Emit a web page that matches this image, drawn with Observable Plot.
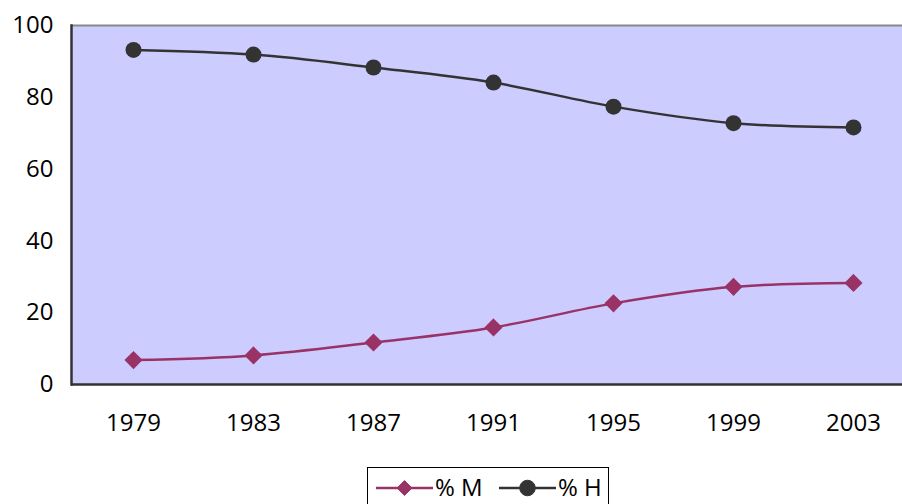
<!DOCTYPE html>
<html>
<head>
<meta charset="utf-8">
<script src="https://cdn.jsdelivr.net/npm/d3@7"></script>
<script src="https://cdn.jsdelivr.net/npm/@observablehq/plot@0.6"></script>
<style>
  html, body { margin: 0; padding: 0; background: #fff; overflow: hidden; }
  #chart { width: 902px; font-family: "Open Sans", sans-serif; }
  #chart svg text { font-size: 24px; }
  #legend { position: absolute; left: 367px; top: 467px; width: 242px; height: 44px;
            border: 1px solid #000; box-sizing: border-box; background: #fff;
            font-family: "Open Sans", sans-serif; font-size: 24px; color: #000; }
</style>
</head>
<body>
<div id="chart"></div>
<div id="legend"></div>
<script>
const years = ["1979", "1983", "1987", "1991", "1995", "1999", "2003"];
const pctM = [6.8, 8.1, 11.7, 15.9, 22.6, 27.2, 28.3];
const pctH = [93.2, 91.9, 88.3, 84.1, 77.4, 72.8, 71.6];
const yTicks = [0, 20, 40, 60, 80, 100];
const seriesNames = ["% M", "% H"];
const colorM = "#993366";
const colorH = "#333333";

const dataM = years.map((y, i) => ({year: y, value: pctM[i]}));
const dataH = years.map((y, i) => ({year: y, value: pctH[i]}));

const chart = Plot.plot({
  width: 902,
  height: 450,
  marginLeft: 71,
  marginRight: 0,
  marginTop: 25,
  marginBottom: 66,
  style: {fontFamily: "Open Sans, sans-serif", fontSize: "24px", color: "#000", background: "transparent"},
  x: {type: "point", domain: years, range: [133, 853], padding: 0, label: null},
  y: {domain: [0, 100], label: null},
  marks: [
    Plot.frame({fill: "#ccccff", stroke: null}),
    Plot.ruleY([100], {stroke: "#888888", strokeWidth: 2}),
    Plot.frame({anchor: "left", stroke: "#333333", strokeWidth: 2.5}),
    Plot.ruleY([0], {stroke: "#333333", strokeWidth: 2.5}),
    Plot.axisY({ticks: yTicks, tickSize: 0, tickPadding: 18, label: null, fontSize: 24}),
    Plot.axisX({tickSize: 0, tickPadding: 29, label: null, fontSize: 24}),
    Plot.line(dataM, {x: "year", y: "value", stroke: colorM, strokeWidth: 2.5, curve: "catmull-rom"}),
    Plot.dot(dataM, {x: "year", y: "value", symbol: "diamond2", fill: colorM, stroke: colorM, r: 7.2}),
    Plot.line(dataH, {x: "year", y: "value", stroke: colorH, strokeWidth: 2.5, curve: "catmull-rom"}),
    Plot.dot(dataH, {x: "year", y: "value", symbol: "circle", fill: colorH, r: 8})
  ]
});
document.getElementById("chart").appendChild(chart);

// legend
const leg = d3.select("#legend").append("svg").attr("width", 242).attr("height", 44);
const items = [
  {name: seriesNames[0], color: colorM, sym: d3.symbolDiamond2, size: 140, x0: 8},
  {name: seriesNames[1], color: colorH, sym: d3.symbolCircle, size: 190, x0: 131}
];
items.forEach(it => {
  const g = leg.append("g");
  g.append("line").attr("x1", it.x0).attr("x2", it.x0 + 57).attr("y1", 20).attr("y2", 20)
    .attr("stroke", it.color).attr("stroke-width", 2.5);
  g.append("path").attr("d", d3.symbol(it.sym, it.size)()).attr("transform", `translate(${it.x0 + 28.5},20)`)
    .attr("fill", it.color).attr("stroke", it.color);
  g.append("text").attr("x", it.x0 + 59).attr("y", 28).text(it.name)
    .attr("font-family", "Open Sans, sans-serif").attr("font-size", 24).attr("fill", "#000");
});
</script>
</body>
</html>
